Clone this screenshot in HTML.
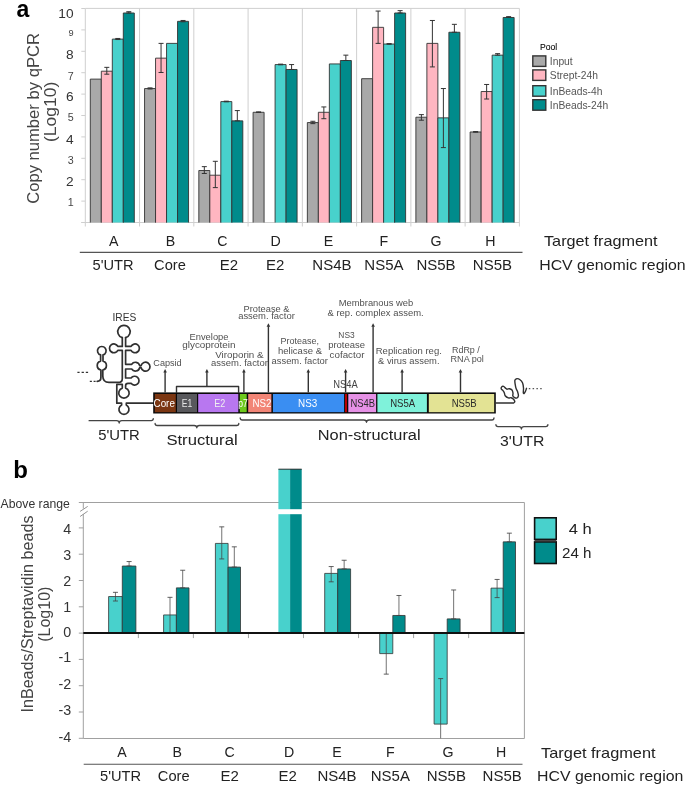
<!DOCTYPE html>
<html><head><meta charset="utf-8"><title>HCV figure</title>
<style>
html,body{margin:0;padding:0;background:#fff;}
body{width:685px;height:785px;overflow:hidden;}
svg{display:block;font-family:"Liberation Sans", sans-serif;will-change:transform;}
</style></head>
<body>
<svg width="685" height="785" viewBox="0 0 685 785">
<rect x="0" y="0" width="685" height="785" fill="#fff"/>
<text x="16.50" y="16.80" font-size="23" text-anchor="start" fill="#000" font-weight="bold">a</text>
<line x1="85.30" y1="8.40" x2="519.40" y2="8.40" stroke="#cfcfcf" stroke-width="1"/>
<line x1="85.30" y1="8.40" x2="85.30" y2="226.50" stroke="#cfcfcf" stroke-width="1"/>
<line x1="139.56" y1="8.40" x2="139.56" y2="226.50" stroke="#cfcfcf" stroke-width="1"/>
<line x1="193.82" y1="8.40" x2="193.82" y2="226.50" stroke="#cfcfcf" stroke-width="1"/>
<line x1="248.09" y1="8.40" x2="248.09" y2="226.50" stroke="#cfcfcf" stroke-width="1"/>
<line x1="302.35" y1="8.40" x2="302.35" y2="226.50" stroke="#cfcfcf" stroke-width="1"/>
<line x1="356.61" y1="8.40" x2="356.61" y2="226.50" stroke="#cfcfcf" stroke-width="1"/>
<line x1="410.88" y1="8.40" x2="410.88" y2="226.50" stroke="#cfcfcf" stroke-width="1"/>
<line x1="465.14" y1="8.40" x2="465.14" y2="226.50" stroke="#cfcfcf" stroke-width="1"/>
<line x1="519.40" y1="8.40" x2="519.40" y2="226.50" stroke="#cfcfcf" stroke-width="1"/>
<line x1="81.30" y1="222.50" x2="519.40" y2="222.50" stroke="#cfcfcf" stroke-width="1"/>
<line x1="81.30" y1="222.50" x2="85.30" y2="222.50" stroke="#cfcfcf" stroke-width="1"/>
<line x1="81.30" y1="201.10" x2="85.30" y2="201.10" stroke="#cfcfcf" stroke-width="1"/>
<line x1="81.30" y1="179.70" x2="85.30" y2="179.70" stroke="#cfcfcf" stroke-width="1"/>
<line x1="81.30" y1="158.30" x2="85.30" y2="158.30" stroke="#cfcfcf" stroke-width="1"/>
<line x1="81.30" y1="136.90" x2="85.30" y2="136.90" stroke="#cfcfcf" stroke-width="1"/>
<line x1="81.30" y1="115.50" x2="85.30" y2="115.50" stroke="#cfcfcf" stroke-width="1"/>
<line x1="81.30" y1="94.10" x2="85.30" y2="94.10" stroke="#cfcfcf" stroke-width="1"/>
<line x1="81.30" y1="72.70" x2="85.30" y2="72.70" stroke="#cfcfcf" stroke-width="1"/>
<line x1="81.30" y1="51.30" x2="85.30" y2="51.30" stroke="#cfcfcf" stroke-width="1"/>
<line x1="81.30" y1="29.90" x2="85.30" y2="29.90" stroke="#cfcfcf" stroke-width="1"/>
<line x1="81.30" y1="8.50" x2="85.30" y2="8.50" stroke="#cfcfcf" stroke-width="1"/>
<text x="73.60" y="17.79" font-size="13.7" text-anchor="end" fill="#333">10</text>
<text x="73.60" y="35.52" font-size="9.2" text-anchor="end" fill="#444">9</text>
<text x="73.60" y="59.20" font-size="13.7" text-anchor="end" fill="#333">8</text>
<text x="73.60" y="80.05" font-size="10.7" text-anchor="end" fill="#444">7</text>
<text x="73.60" y="101.09" font-size="13.7" text-anchor="end" fill="#333">6</text>
<text x="73.60" y="121.45" font-size="10.7" text-anchor="end" fill="#444">5</text>
<text x="73.60" y="144.29" font-size="13.7" text-anchor="end" fill="#333">4</text>
<text x="73.60" y="164.34" font-size="10.7" text-anchor="end" fill="#444">3</text>
<text x="73.60" y="185.59" font-size="13.7" text-anchor="end" fill="#333">2</text>
<text x="73.60" y="205.94" font-size="10.7" text-anchor="end" fill="#444">1</text>
<text transform="translate(38.60,118.45) rotate(-90)" x="0" y="0" font-size="16.3" text-anchor="middle" fill="#444" textLength="170.8" lengthAdjust="spacingAndGlyphs">Copy number by qPCR</text>
<text transform="translate(56.20,111.85) rotate(-90)" x="0" y="0" font-size="16.3" text-anchor="middle" fill="#444" textLength="60.2" lengthAdjust="spacingAndGlyphs">(Log10)</text>
<rect x="90.30" y="79.12" width="11.00" height="143.38" fill="#a9a9a9"/>
<path d="M90.30,222.50 V79.12 H101.30 V222.50" fill="none" stroke="#333" stroke-width="0.9"/>
<rect x="101.30" y="71.20" width="11.00" height="151.30" fill="#ffb6c1"/>
<path d="M101.30,222.50 V71.20 H112.30 V222.50" fill="none" stroke="#333" stroke-width="0.9"/>
<rect x="112.30" y="39.10" width="11.00" height="183.40" fill="#48d1cc"/>
<path d="M112.30,222.50 V39.10 H123.30 V222.50" fill="none" stroke="#333" stroke-width="0.9"/>
<rect x="123.30" y="12.99" width="11.00" height="209.51" fill="#008b8b"/>
<path d="M123.30,222.50 V12.99 H134.30 V222.50" fill="none" stroke="#333" stroke-width="0.9"/>
<line x1="106.80" y1="67.35" x2="106.80" y2="74.20" stroke="#333" stroke-width="1"/>
<line x1="104.30" y1="67.35" x2="109.30" y2="67.35" stroke="#333" stroke-width="1"/>
<line x1="104.30" y1="74.20" x2="109.30" y2="74.20" stroke="#333" stroke-width="1"/>
<line x1="117.80" y1="38.46" x2="117.80" y2="39.53" stroke="#333" stroke-width="1"/>
<line x1="115.30" y1="38.46" x2="120.30" y2="38.46" stroke="#333" stroke-width="1"/>
<line x1="115.30" y1="39.53" x2="120.30" y2="39.53" stroke="#333" stroke-width="1"/>
<line x1="128.80" y1="11.71" x2="128.80" y2="12.99" stroke="#333" stroke-width="1"/>
<line x1="126.30" y1="11.71" x2="131.30" y2="11.71" stroke="#333" stroke-width="1"/>
<line x1="126.30" y1="12.99" x2="131.30" y2="12.99" stroke="#333" stroke-width="1"/>
<rect x="144.56" y="88.54" width="11.00" height="133.96" fill="#a9a9a9"/>
<path d="M144.56,222.50 V88.54 H155.56 V222.50" fill="none" stroke="#333" stroke-width="0.9"/>
<rect x="155.56" y="58.15" width="11.00" height="164.35" fill="#ffb6c1"/>
<path d="M155.56,222.50 V58.15 H166.56 V222.50" fill="none" stroke="#333" stroke-width="0.9"/>
<rect x="166.56" y="43.38" width="11.00" height="179.12" fill="#48d1cc"/>
<path d="M166.56,222.50 V43.38 H177.56 V222.50" fill="none" stroke="#333" stroke-width="0.9"/>
<rect x="177.56" y="21.34" width="11.00" height="201.16" fill="#008b8b"/>
<path d="M177.56,222.50 V21.34 H188.56 V222.50" fill="none" stroke="#333" stroke-width="0.9"/>
<line x1="150.06" y1="87.89" x2="150.06" y2="88.96" stroke="#333" stroke-width="1"/>
<line x1="147.56" y1="87.89" x2="152.56" y2="87.89" stroke="#333" stroke-width="1"/>
<line x1="147.56" y1="88.96" x2="152.56" y2="88.96" stroke="#333" stroke-width="1"/>
<line x1="161.06" y1="43.38" x2="161.06" y2="72.49" stroke="#333" stroke-width="1"/>
<line x1="158.56" y1="43.38" x2="163.56" y2="43.38" stroke="#333" stroke-width="1"/>
<line x1="158.56" y1="72.49" x2="163.56" y2="72.49" stroke="#333" stroke-width="1"/>
<line x1="183.06" y1="20.48" x2="183.06" y2="21.77" stroke="#333" stroke-width="1"/>
<line x1="180.56" y1="20.48" x2="185.56" y2="20.48" stroke="#333" stroke-width="1"/>
<line x1="180.56" y1="21.77" x2="185.56" y2="21.77" stroke="#333" stroke-width="1"/>
<rect x="198.82" y="170.50" width="11.00" height="52.00" fill="#a9a9a9"/>
<path d="M198.82,222.50 V170.50 H209.82 V222.50" fill="none" stroke="#333" stroke-width="0.9"/>
<rect x="209.82" y="175.21" width="11.00" height="47.29" fill="#ffb6c1"/>
<path d="M209.82,222.50 V175.21 H220.82 V222.50" fill="none" stroke="#333" stroke-width="0.9"/>
<rect x="220.82" y="101.59" width="11.00" height="120.91" fill="#48d1cc"/>
<path d="M220.82,222.50 V101.59 H231.82 V222.50" fill="none" stroke="#333" stroke-width="0.9"/>
<rect x="231.82" y="120.85" width="11.00" height="101.65" fill="#008b8b"/>
<path d="M231.82,222.50 V120.85 H242.82 V222.50" fill="none" stroke="#333" stroke-width="0.9"/>
<line x1="204.32" y1="166.65" x2="204.32" y2="173.49" stroke="#333" stroke-width="1"/>
<line x1="201.82" y1="166.65" x2="206.82" y2="166.65" stroke="#333" stroke-width="1"/>
<line x1="201.82" y1="173.49" x2="206.82" y2="173.49" stroke="#333" stroke-width="1"/>
<line x1="215.32" y1="161.30" x2="215.32" y2="187.62" stroke="#333" stroke-width="1"/>
<line x1="212.82" y1="161.30" x2="217.82" y2="161.30" stroke="#333" stroke-width="1"/>
<line x1="212.82" y1="187.62" x2="217.82" y2="187.62" stroke="#333" stroke-width="1"/>
<line x1="226.32" y1="101.16" x2="226.32" y2="101.80" stroke="#333" stroke-width="1"/>
<line x1="223.82" y1="101.16" x2="228.82" y2="101.16" stroke="#333" stroke-width="1"/>
<line x1="223.82" y1="101.80" x2="228.82" y2="101.80" stroke="#333" stroke-width="1"/>
<line x1="237.32" y1="110.58" x2="237.32" y2="120.85" stroke="#333" stroke-width="1"/>
<line x1="234.82" y1="110.58" x2="239.82" y2="110.58" stroke="#333" stroke-width="1"/>
<line x1="234.82" y1="120.85" x2="239.82" y2="120.85" stroke="#333" stroke-width="1"/>
<rect x="253.09" y="112.29" width="11.00" height="110.21" fill="#a9a9a9"/>
<path d="M253.09,222.50 V112.29 H264.09 V222.50" fill="none" stroke="#333" stroke-width="0.9"/>
<rect x="275.09" y="64.57" width="11.00" height="157.93" fill="#48d1cc"/>
<path d="M275.09,222.50 V64.57 H286.09 V222.50" fill="none" stroke="#333" stroke-width="0.9"/>
<rect x="286.09" y="69.49" width="11.00" height="153.01" fill="#008b8b"/>
<path d="M286.09,222.50 V69.49 H297.09 V222.50" fill="none" stroke="#333" stroke-width="0.9"/>
<line x1="258.59" y1="111.86" x2="258.59" y2="112.50" stroke="#333" stroke-width="1"/>
<line x1="256.09" y1="111.86" x2="261.09" y2="111.86" stroke="#333" stroke-width="1"/>
<line x1="256.09" y1="112.50" x2="261.09" y2="112.50" stroke="#333" stroke-width="1"/>
<line x1="280.59" y1="64.14" x2="280.59" y2="64.78" stroke="#333" stroke-width="1"/>
<line x1="278.09" y1="64.14" x2="283.09" y2="64.14" stroke="#333" stroke-width="1"/>
<line x1="278.09" y1="64.78" x2="283.09" y2="64.78" stroke="#333" stroke-width="1"/>
<line x1="291.59" y1="64.57" x2="291.59" y2="69.49" stroke="#333" stroke-width="1"/>
<line x1="289.09" y1="64.57" x2="294.09" y2="64.57" stroke="#333" stroke-width="1"/>
<line x1="289.09" y1="69.49" x2="294.09" y2="69.49" stroke="#333" stroke-width="1"/>
<rect x="307.35" y="122.56" width="11.00" height="99.94" fill="#a9a9a9"/>
<path d="M307.35,222.50 V122.56 H318.35 V222.50" fill="none" stroke="#333" stroke-width="0.9"/>
<rect x="318.35" y="112.29" width="11.00" height="110.21" fill="#ffb6c1"/>
<path d="M318.35,222.50 V112.29 H329.35 V222.50" fill="none" stroke="#333" stroke-width="0.9"/>
<rect x="329.35" y="63.93" width="11.00" height="158.57" fill="#48d1cc"/>
<path d="M329.35,222.50 V63.93 H340.35 V222.50" fill="none" stroke="#333" stroke-width="0.9"/>
<rect x="340.35" y="60.50" width="11.00" height="162.00" fill="#008b8b"/>
<path d="M340.35,222.50 V60.50 H351.35 V222.50" fill="none" stroke="#333" stroke-width="0.9"/>
<line x1="312.85" y1="121.28" x2="312.85" y2="123.63" stroke="#333" stroke-width="1"/>
<line x1="310.35" y1="121.28" x2="315.35" y2="121.28" stroke="#333" stroke-width="1"/>
<line x1="310.35" y1="123.63" x2="315.35" y2="123.63" stroke="#333" stroke-width="1"/>
<line x1="323.85" y1="106.94" x2="323.85" y2="118.71" stroke="#333" stroke-width="1"/>
<line x1="321.35" y1="106.94" x2="326.35" y2="106.94" stroke="#333" stroke-width="1"/>
<line x1="321.35" y1="118.71" x2="326.35" y2="118.71" stroke="#333" stroke-width="1"/>
<line x1="345.85" y1="55.15" x2="345.85" y2="60.50" stroke="#333" stroke-width="1"/>
<line x1="343.35" y1="55.15" x2="348.35" y2="55.15" stroke="#333" stroke-width="1"/>
<line x1="343.35" y1="60.50" x2="348.35" y2="60.50" stroke="#333" stroke-width="1"/>
<rect x="361.61" y="78.69" width="11.00" height="143.81" fill="#a9a9a9"/>
<path d="M361.61,222.50 V78.69 H372.61 V222.50" fill="none" stroke="#333" stroke-width="0.9"/>
<rect x="372.61" y="27.33" width="11.00" height="195.17" fill="#ffb6c1"/>
<path d="M372.61,222.50 V27.33 H383.61 V222.50" fill="none" stroke="#333" stroke-width="0.9"/>
<rect x="383.61" y="44.02" width="11.00" height="178.48" fill="#48d1cc"/>
<path d="M383.61,222.50 V44.02 H394.61 V222.50" fill="none" stroke="#333" stroke-width="0.9"/>
<rect x="394.61" y="12.99" width="11.00" height="209.51" fill="#008b8b"/>
<path d="M394.61,222.50 V12.99 H405.61 V222.50" fill="none" stroke="#333" stroke-width="0.9"/>
<line x1="378.11" y1="11.07" x2="378.11" y2="43.38" stroke="#333" stroke-width="1"/>
<line x1="375.61" y1="11.07" x2="380.61" y2="11.07" stroke="#333" stroke-width="1"/>
<line x1="375.61" y1="43.38" x2="380.61" y2="43.38" stroke="#333" stroke-width="1"/>
<line x1="389.11" y1="43.60" x2="389.11" y2="44.24" stroke="#333" stroke-width="1"/>
<line x1="386.61" y1="43.60" x2="391.61" y2="43.60" stroke="#333" stroke-width="1"/>
<line x1="386.61" y1="44.24" x2="391.61" y2="44.24" stroke="#333" stroke-width="1"/>
<line x1="400.11" y1="10.64" x2="400.11" y2="12.99" stroke="#333" stroke-width="1"/>
<line x1="397.61" y1="10.64" x2="402.61" y2="10.64" stroke="#333" stroke-width="1"/>
<line x1="397.61" y1="12.99" x2="402.61" y2="12.99" stroke="#333" stroke-width="1"/>
<rect x="415.88" y="117.21" width="11.00" height="105.29" fill="#a9a9a9"/>
<path d="M415.88,222.50 V117.21 H426.88 V222.50" fill="none" stroke="#333" stroke-width="0.9"/>
<rect x="426.88" y="43.38" width="11.00" height="179.12" fill="#ffb6c1"/>
<path d="M426.88,222.50 V43.38 H437.88 V222.50" fill="none" stroke="#333" stroke-width="0.9"/>
<rect x="437.88" y="117.85" width="11.00" height="104.65" fill="#48d1cc"/>
<path d="M437.88,222.50 V117.85 H448.88 V222.50" fill="none" stroke="#333" stroke-width="0.9"/>
<rect x="448.88" y="32.25" width="11.00" height="190.25" fill="#008b8b"/>
<path d="M448.88,222.50 V32.25 H459.88 V222.50" fill="none" stroke="#333" stroke-width="0.9"/>
<line x1="421.38" y1="114.64" x2="421.38" y2="120.21" stroke="#333" stroke-width="1"/>
<line x1="418.88" y1="114.64" x2="423.88" y2="114.64" stroke="#333" stroke-width="1"/>
<line x1="418.88" y1="120.21" x2="423.88" y2="120.21" stroke="#333" stroke-width="1"/>
<line x1="432.38" y1="20.48" x2="432.38" y2="66.92" stroke="#333" stroke-width="1"/>
<line x1="429.88" y1="20.48" x2="434.88" y2="20.48" stroke="#333" stroke-width="1"/>
<line x1="429.88" y1="66.92" x2="434.88" y2="66.92" stroke="#333" stroke-width="1"/>
<line x1="443.38" y1="88.54" x2="443.38" y2="147.60" stroke="#333" stroke-width="1"/>
<line x1="440.88" y1="88.54" x2="445.88" y2="88.54" stroke="#333" stroke-width="1"/>
<line x1="440.88" y1="147.60" x2="445.88" y2="147.60" stroke="#333" stroke-width="1"/>
<line x1="454.38" y1="24.34" x2="454.38" y2="32.25" stroke="#333" stroke-width="1"/>
<line x1="451.88" y1="24.34" x2="456.88" y2="24.34" stroke="#333" stroke-width="1"/>
<line x1="451.88" y1="32.25" x2="456.88" y2="32.25" stroke="#333" stroke-width="1"/>
<rect x="470.14" y="131.98" width="11.00" height="90.52" fill="#a9a9a9"/>
<path d="M470.14,222.50 V131.98 H481.14 V222.50" fill="none" stroke="#333" stroke-width="0.9"/>
<rect x="481.14" y="91.53" width="11.00" height="130.97" fill="#ffb6c1"/>
<path d="M481.14,222.50 V91.53 H492.14 V222.50" fill="none" stroke="#333" stroke-width="0.9"/>
<rect x="492.14" y="55.15" width="11.00" height="167.35" fill="#48d1cc"/>
<path d="M492.14,222.50 V55.15 H503.14 V222.50" fill="none" stroke="#333" stroke-width="0.9"/>
<rect x="503.14" y="17.49" width="11.00" height="205.01" fill="#008b8b"/>
<path d="M503.14,222.50 V17.49 H514.14 V222.50" fill="none" stroke="#333" stroke-width="0.9"/>
<line x1="475.64" y1="131.55" x2="475.64" y2="132.19" stroke="#333" stroke-width="1"/>
<line x1="473.14" y1="131.55" x2="478.14" y2="131.55" stroke="#333" stroke-width="1"/>
<line x1="473.14" y1="132.19" x2="478.14" y2="132.19" stroke="#333" stroke-width="1"/>
<line x1="486.64" y1="84.47" x2="486.64" y2="99.02" stroke="#333" stroke-width="1"/>
<line x1="484.14" y1="84.47" x2="489.14" y2="84.47" stroke="#333" stroke-width="1"/>
<line x1="484.14" y1="99.02" x2="489.14" y2="99.02" stroke="#333" stroke-width="1"/>
<line x1="497.64" y1="53.65" x2="497.64" y2="55.15" stroke="#333" stroke-width="1"/>
<line x1="495.14" y1="53.65" x2="500.14" y2="53.65" stroke="#333" stroke-width="1"/>
<line x1="495.14" y1="55.15" x2="500.14" y2="55.15" stroke="#333" stroke-width="1"/>
<line x1="508.64" y1="16.63" x2="508.64" y2="17.49" stroke="#333" stroke-width="1"/>
<line x1="506.14" y1="16.63" x2="511.14" y2="16.63" stroke="#333" stroke-width="1"/>
<line x1="506.14" y1="17.49" x2="511.14" y2="17.49" stroke="#333" stroke-width="1"/>
<text x="540.00" y="50.30" font-size="8.6" text-anchor="start" fill="#000" stroke="#111" stroke-width="0.08">Pool</text>
<rect x="532.80" y="55.90" width="13.00" height="10.50" fill="#a9a9a9" stroke="#333" stroke-width="1.4"/>
<text x="549.80" y="64.90" font-size="10.3" text-anchor="start" fill="#555">Input</text>
<rect x="532.80" y="69.90" width="13.00" height="10.50" fill="#ffb6c1" stroke="#333" stroke-width="1.4"/>
<text x="549.80" y="78.90" font-size="10.3" text-anchor="start" fill="#555">Strept-24h</text>
<rect x="532.80" y="85.70" width="13.00" height="10.50" fill="#48d1cc" stroke="#333" stroke-width="1.4"/>
<text x="549.80" y="94.70" font-size="10.3" text-anchor="start" fill="#555">InBeads-4h</text>
<rect x="532.80" y="99.70" width="13.00" height="10.50" fill="#008b8b" stroke="#333" stroke-width="1.4"/>
<text x="549.80" y="108.70" font-size="10.3" text-anchor="start" fill="#555">InBeads-24h</text>
<text x="113.80" y="246.10" font-size="14.2" text-anchor="middle" fill="#222">A</text>
<text x="170.40" y="246.10" font-size="14.2" text-anchor="middle" fill="#222">B</text>
<text x="222.40" y="246.10" font-size="14.2" text-anchor="middle" fill="#222">C</text>
<text x="275.60" y="246.10" font-size="14.2" text-anchor="middle" fill="#222">D</text>
<text x="328.50" y="246.10" font-size="14.2" text-anchor="middle" fill="#222">E</text>
<text x="383.90" y="246.10" font-size="14.2" text-anchor="middle" fill="#222">F</text>
<text x="436.00" y="246.10" font-size="14.2" text-anchor="middle" fill="#222">G</text>
<text x="490.40" y="246.10" font-size="14.2" text-anchor="middle" fill="#222">H</text>
<text x="113.10" y="270.20" font-size="15.0" text-anchor="middle" fill="#222" textLength="41" lengthAdjust="spacingAndGlyphs">5'UTR</text>
<text x="170.00" y="270.20" font-size="15.0" text-anchor="middle" fill="#222" textLength="31.8" lengthAdjust="spacingAndGlyphs">Core</text>
<text x="228.90" y="270.20" font-size="15.0" text-anchor="middle" fill="#222">E2</text>
<text x="275.20" y="270.20" font-size="15.0" text-anchor="middle" fill="#222">E2</text>
<text x="331.90" y="270.20" font-size="15.0" text-anchor="middle" fill="#222">NS4B</text>
<text x="383.90" y="270.20" font-size="15.0" text-anchor="middle" fill="#222">NS5A</text>
<text x="436.00" y="270.20" font-size="15.0" text-anchor="middle" fill="#222">NS5B</text>
<text x="492.40" y="270.20" font-size="15.0" text-anchor="middle" fill="#222">NS5B</text>
<line x1="79.80" y1="252.40" x2="522.50" y2="252.40" stroke="#555" stroke-width="1.1"/>
<text x="544.00" y="246.10" font-size="15.0" text-anchor="start" fill="#222" textLength="113.6" lengthAdjust="spacingAndGlyphs">Target fragment</text>
<text x="539.20" y="270.10" font-size="15.0" text-anchor="start" fill="#222" textLength="146.5" lengthAdjust="spacingAndGlyphs">HCV genomic region</text>
<text x="124.40" y="321.40" font-size="10.0" text-anchor="middle" fill="#333" textLength="23.8" lengthAdjust="spacingAndGlyphs">IRES</text>
<path d="M122.3,337.6 A6.2,6.2 0 1 1 125.6,337.6" fill="none" stroke="#303030" stroke-width="1.7" stroke-linecap="round" stroke-linejoin="round"/>
<path d="M122.3,337.6 V346.4 H117.84 A4.4,4.4 0 1 0 117.84,350.3 H122.3 V378.4 Q122.3,382.4 118.3,382.4 H109 Q102.8,382.4 102.8,376 V370.0 A4.6,4.6 0 0 0 103.0,361.06 V354.93 A4.3,4.3 0 1 0 100.6,354.93 V361.06 A4.6,4.6 0 0 0 100.9,370.0 V377.5 Q100.9,381.3 97.2,381.3" fill="none" stroke="#303030" stroke-width="1.7" stroke-linecap="round" stroke-linejoin="round"/>
<path d="M125.6,337.6 V346.4 H131.06 A4.4,4.4 0 1 1 131.06,350.3 H125.6 V364.3 H131.68 A4.4,4.4 0 0 1 139.67,365.6 H141.12 A4.5,4.5 0 1 1 141.12,367.7 H139.67 A4.4,4.4 0 0 1 131.68,369.0 H125.6 V378.0 H131.09 A4.4,4.4 0 1 1 131.09,383.3 H128 Q125.6,383.3 125.6,385.7 V388.07 A5.2,5.2 0 1 1 122.3,388.07 V384.4 H116.8 V403.2 H121.6 V404.9 A5.0,5.0 0 1 0 126.3,404.9 V403.2 H153.3" fill="none" stroke="#303030" stroke-width="1.7" stroke-linecap="round" stroke-linejoin="round"/>
<path d="M77.4,372.4 H79.6 M81.6,372.4 H83.9 M85.8,372.4 H88.1 M89.8,381.4 H91.9 M93.6,381.4 H95.6" stroke="#333" stroke-width="1.4" fill="none"/>
<rect x="153.20" y="392.40" width="342.60" height="21.10" fill="#0a0a0a"/>
<rect x="154.80" y="394.00" width="21.00" height="18.20" fill="#7b3612"/>
<rect x="177.00" y="394.00" width="20.00" height="18.20" fill="#58585c"/>
<rect x="198.20" y="394.00" width="40.10" height="18.20" fill="#b877f0"/>
<rect x="239.80" y="394.00" width="6.90" height="18.20" fill="#6dc91c"/>
<rect x="248.20" y="394.00" width="23.20" height="18.20" fill="#f28576"/>
<rect x="272.90" y="394.00" width="71.20" height="18.20" fill="#3a8ef2"/>
<rect x="345.10" y="394.00" width="1.80" height="18.20" fill="#cc0000"/>
<rect x="348.30" y="394.00" width="27.80" height="18.20" fill="#e691e6"/>
<rect x="377.40" y="394.00" width="49.50" height="18.20" fill="#7ff2da"/>
<rect x="428.80" y="394.00" width="65.40" height="18.20" fill="#e3e394"/>
<text x="164.20" y="406.60" font-size="10.6" text-anchor="middle" fill="#fff" textLength="21.3" lengthAdjust="spacingAndGlyphs">Core</text>
<text x="187.00" y="406.60" font-size="10.6" text-anchor="middle" fill="#e6e6e6" textLength="10.5" lengthAdjust="spacingAndGlyphs">E1</text>
<text x="219.70" y="406.60" font-size="10.6" text-anchor="middle" fill="#f0f0f0" textLength="11.0" lengthAdjust="spacingAndGlyphs">E2</text>
<text x="242.90" y="406.60" font-size="10.6" text-anchor="middle" fill="#fff" textLength="9.5" lengthAdjust="spacingAndGlyphs">p7</text>
<text x="261.90" y="406.60" font-size="10.6" text-anchor="middle" fill="#fff" textLength="19.0" lengthAdjust="spacingAndGlyphs">NS2</text>
<text x="307.70" y="406.60" font-size="10.6" text-anchor="middle" fill="#fff" textLength="19.2" lengthAdjust="spacingAndGlyphs">NS3</text>
<text x="362.80" y="406.60" font-size="10.6" text-anchor="middle" fill="#2a2a2a" textLength="24.6" lengthAdjust="spacingAndGlyphs">NS4B</text>
<text x="402.70" y="406.60" font-size="10.6" text-anchor="middle" fill="#2a2a2a" textLength="25.0" lengthAdjust="spacingAndGlyphs">NS5A</text>
<text x="464.20" y="406.60" font-size="10.6" text-anchor="middle" fill="#2a2a2a" textLength="25.0" lengthAdjust="spacingAndGlyphs">NS5B</text>
<line x1="165.10" y1="392.40" x2="165.10" y2="372.00" stroke="#333" stroke-width="1.4"/>
<path d="M163.30,372.60 L165.10,369.00 L166.90,372.60 Z" fill="#333"/>
<line x1="206.90" y1="386.50" x2="206.90" y2="372.00" stroke="#333" stroke-width="1.4"/>
<path d="M205.10,372.60 L206.90,369.00 L208.70,372.60 Z" fill="#333"/>
<path d="M176.5,392.4 V386.5 H238.6 V392.4" fill="none" stroke="#333" stroke-width="1.4" stroke-linecap="round" stroke-linejoin="round"/>
<line x1="243.90" y1="392.40" x2="243.90" y2="372.00" stroke="#333" stroke-width="1.4"/>
<path d="M242.10,372.60 L243.90,369.00 L245.70,372.60 Z" fill="#333"/>
<line x1="268.40" y1="392.40" x2="268.40" y2="326.20" stroke="#333" stroke-width="1.4"/>
<path d="M266.60,326.80 L268.40,323.20 L270.20,326.80 Z" fill="#333"/>
<line x1="308.30" y1="392.40" x2="308.30" y2="372.00" stroke="#333" stroke-width="1.4"/>
<path d="M306.50,372.60 L308.30,369.00 L310.10,372.60 Z" fill="#333"/>
<line x1="345.60" y1="392.40" x2="345.60" y2="372.00" stroke="#333" stroke-width="1.4"/>
<path d="M343.80,372.60 L345.60,369.00 L347.40,372.60 Z" fill="#333"/>
<line x1="373.10" y1="392.40" x2="373.10" y2="326.20" stroke="#333" stroke-width="1.4"/>
<path d="M371.30,326.80 L373.10,323.20 L374.90,326.80 Z" fill="#333"/>
<line x1="402.10" y1="392.40" x2="402.10" y2="372.00" stroke="#333" stroke-width="1.4"/>
<path d="M400.30,372.60 L402.10,369.00 L403.90,372.60 Z" fill="#333"/>
<line x1="460.50" y1="392.40" x2="460.50" y2="372.00" stroke="#333" stroke-width="1.4"/>
<path d="M458.70,372.60 L460.50,369.00 L462.30,372.60 Z" fill="#333"/>
<text x="167.50" y="366.00" font-size="9.3" text-anchor="middle" fill="#505050" textLength="28.4" lengthAdjust="spacingAndGlyphs">Capsid</text>
<text x="209.00" y="340.00" font-size="9.3" text-anchor="middle" fill="#505050" textLength="39.0" lengthAdjust="spacingAndGlyphs">Envelope</text>
<text x="208.90" y="347.70" font-size="9.3" text-anchor="middle" fill="#505050" textLength="53.3" lengthAdjust="spacingAndGlyphs">glycoprotein</text>
<text x="239.40" y="358.30" font-size="9.3" text-anchor="middle" fill="#505050" textLength="48.4" lengthAdjust="spacingAndGlyphs">Viroporin &amp;</text>
<text x="239.50" y="366.30" font-size="9.3" text-anchor="middle" fill="#505050" textLength="56.9" lengthAdjust="spacingAndGlyphs">assem. factor</text>
<text x="266.50" y="311.80" font-size="9.3" text-anchor="middle" fill="#505050" textLength="45.9" lengthAdjust="spacingAndGlyphs">Protease &amp;</text>
<text x="266.50" y="318.80" font-size="9.3" text-anchor="middle" fill="#505050" textLength="56.7" lengthAdjust="spacingAndGlyphs">assem. factor</text>
<text x="299.80" y="344.00" font-size="9.3" text-anchor="middle" fill="#505050" textLength="38.5" lengthAdjust="spacingAndGlyphs">Protease,</text>
<text x="300.00" y="353.90" font-size="9.3" text-anchor="middle" fill="#505050" textLength="44.0" lengthAdjust="spacingAndGlyphs">helicase &amp;</text>
<text x="299.70" y="364.00" font-size="9.3" text-anchor="middle" fill="#505050" textLength="56.3" lengthAdjust="spacingAndGlyphs">assem. factor</text>
<text x="346.50" y="337.80" font-size="9.3" text-anchor="middle" fill="#505050" textLength="16.3" lengthAdjust="spacingAndGlyphs">NS3</text>
<text x="346.60" y="348.40" font-size="9.3" text-anchor="middle" fill="#505050" textLength="36.8" lengthAdjust="spacingAndGlyphs">protease</text>
<text x="347.00" y="358.30" font-size="9.3" text-anchor="middle" fill="#505050" textLength="34.8" lengthAdjust="spacingAndGlyphs">cofactor</text>
<text x="376.00" y="305.70" font-size="9.3" text-anchor="middle" fill="#505050" textLength="74.6" lengthAdjust="spacingAndGlyphs">Membranous web</text>
<text x="375.60" y="316.10" font-size="9.3" text-anchor="middle" fill="#505050" textLength="96.1" lengthAdjust="spacingAndGlyphs">&amp; rep. complex assem.</text>
<text x="408.80" y="354.30" font-size="9.3" text-anchor="middle" fill="#505050" textLength="66.1" lengthAdjust="spacingAndGlyphs">Replication reg.</text>
<text x="408.80" y="363.90" font-size="9.3" text-anchor="middle" fill="#505050" textLength="61.5" lengthAdjust="spacingAndGlyphs">&amp; virus assem.</text>
<text x="465.90" y="352.50" font-size="9.3" text-anchor="middle" fill="#505050" textLength="27.9" lengthAdjust="spacingAndGlyphs">RdRp /</text>
<text x="467.20" y="362.20" font-size="9.3" text-anchor="middle" fill="#505050" textLength="33.3" lengthAdjust="spacingAndGlyphs">RNA pol</text>
<text x="345.40" y="388.20" font-size="10.6" text-anchor="middle" fill="#444" textLength="24.5" lengthAdjust="spacingAndGlyphs">NS4A</text>
<path d="M495.8,403.0 H513.6  C513.80,402.77 514.85,402.27 514.80,401.60 C514.75,400.93 513.92,399.65 513.30,399.00 C512.68,398.35 511.93,397.88 511.10,397.70 C510.27,397.52 509.28,398.22 508.30,397.90 C507.32,397.58 505.87,396.65 505.20,395.80 C504.53,394.95 504.67,393.67 504.30,392.80 C503.93,391.93 503.50,391.23 503.00,390.60 C502.50,389.97 501.52,389.62 501.30,389.00 C501.08,388.38 501.32,387.33 501.70,386.90 C502.08,386.47 502.97,386.20 503.60,386.40 C504.23,386.60 504.93,387.63 505.50,388.10 C506.07,388.57 506.35,389.10 507.00,389.20 C507.65,389.30 508.57,388.57 509.40,388.70 C510.23,388.83 511.40,389.25 512.00,390.00 C512.60,390.75 512.87,392.23 513.00,393.20 C513.13,394.17 512.60,395.10 512.80,395.80 C513.00,396.50 513.55,397.02 514.20,397.40 C514.85,397.78 516.00,398.37 516.70,398.10 C517.40,397.83 518.25,396.85 518.40,395.80 C518.55,394.75 517.98,393.02 517.60,391.80 C517.22,390.58 516.50,389.75 516.10,388.50 C515.70,387.25 515.40,385.67 515.20,384.30 C515.00,382.93 514.63,381.23 514.90,380.30 C515.17,379.37 515.95,378.80 516.80,378.70 C517.65,378.60 519.03,378.98 520.00,379.70 C520.97,380.42 522.02,381.62 522.60,383.00 C523.18,384.38 523.38,386.42 523.50,388.00 C523.62,389.58 523.22,391.57 523.30,392.50 C523.38,393.43 523.62,393.85 524.00,393.60 C524.38,393.35 525.18,391.88 525.60,391.00 C526.02,390.12 526.35,388.75 526.50,388.30" fill="none" stroke="#303030" stroke-width="1.4" stroke-linecap="round" stroke-linejoin="round"/>
<path d="M528.8,388.6 H530.3 M532.6,388.6 H534.1 M536.4,388.6 H537.9 M540.2,388.6 H541.7" stroke="#555" stroke-width="1.2" fill="none"/>
<path d="M89.1,420.7 H116.6 Q119.2,420.7 119.2,423.0 Q119.2,420.7 121.8,420.7 H151.3 Q153.3,420.7 153.3,418.6" fill="none" stroke="#444" stroke-width="1.3" stroke-linecap="round" stroke-linejoin="round"/>
<path d="M155.1,423.4 Q155.1,425.5 157.2,425.5 H194.2 Q196.8,425.5 196.8,427.8 Q196.8,425.5 199.4,425.5 H236.7 Q238.8,425.5 238.8,423.4" fill="none" stroke="#444" stroke-width="1.3" stroke-linecap="round" stroke-linejoin="round"/>
<path d="M240.2,417.8 Q240.2,420.0 242.3,420.0 H363.9 Q366.5,420.0 366.5,422.3 Q366.5,420.0 369.1,420.0 H491.9 Q494.0,420.0 494.0,417.8" fill="none" stroke="#444" stroke-width="1.3" stroke-linecap="round" stroke-linejoin="round"/>
<path d="M495.9,424.6 Q495.9,426.7 498.0,426.7 H518.8 Q521.4,426.7 521.4,429.0 Q521.4,426.7 524.0,426.7 H545.8 Q547.9,426.7 547.9,424.6" fill="none" stroke="#444" stroke-width="1.3" stroke-linecap="round" stroke-linejoin="round"/>
<text x="119.00" y="439.80" font-size="15.2" text-anchor="middle" fill="#222" textLength="41.6" lengthAdjust="spacingAndGlyphs">5'UTR</text>
<text x="202.00" y="445.00" font-size="15.2" text-anchor="middle" fill="#222" textLength="71.2" lengthAdjust="spacingAndGlyphs">Structural</text>
<text x="369.20" y="439.70" font-size="15.2" text-anchor="middle" fill="#222" textLength="102.8" lengthAdjust="spacingAndGlyphs">Non-structural</text>
<text x="522.20" y="446.30" font-size="15.2" text-anchor="middle" fill="#222" textLength="44.3" lengthAdjust="spacingAndGlyphs">3'UTR</text>
<text x="13.30" y="477.80" font-size="24" text-anchor="start" fill="#000" font-weight="bold">b</text>
<line x1="78.80" y1="502.50" x2="524.40" y2="502.50" stroke="#a0a0a0" stroke-width="1"/>
<line x1="524.40" y1="502.50" x2="524.40" y2="738.50" stroke="#a0a0a0" stroke-width="1"/>
<line x1="83.30" y1="502.50" x2="83.30" y2="508.60" stroke="#a0a0a0" stroke-width="1"/>
<line x1="83.30" y1="514.20" x2="83.30" y2="738.50" stroke="#a0a0a0" stroke-width="1"/>
<line x1="83.30" y1="738.50" x2="524.40" y2="738.50" stroke="#a0a0a0" stroke-width="1"/>
<line x1="80.10" y1="511.40" x2="87.70" y2="506.40" stroke="#888" stroke-width="0.9"/>
<line x1="80.10" y1="516.50" x2="87.70" y2="511.20" stroke="#888" stroke-width="0.9"/>
<text x="0.50" y="507.70" font-size="12.1" text-anchor="start" fill="#333" textLength="69.4" lengthAdjust="spacingAndGlyphs">Above range</text>
<line x1="78.80" y1="738.30" x2="83.30" y2="738.30" stroke="#a0a0a0" stroke-width="1"/>
<text x="71.20" y="741.50" font-size="14.3" text-anchor="end" fill="#333">-4</text>
<line x1="78.80" y1="712.00" x2="83.30" y2="712.00" stroke="#a0a0a0" stroke-width="1"/>
<text x="71.20" y="715.21" font-size="14.3" text-anchor="end" fill="#333">-3</text>
<line x1="78.80" y1="685.70" x2="83.30" y2="685.70" stroke="#a0a0a0" stroke-width="1"/>
<text x="71.20" y="688.90" font-size="14.3" text-anchor="end" fill="#333">-2</text>
<line x1="78.80" y1="659.40" x2="83.30" y2="659.40" stroke="#a0a0a0" stroke-width="1"/>
<text x="71.20" y="662.30" font-size="14.3" text-anchor="end" fill="#333">-1</text>
<line x1="78.80" y1="633.10" x2="83.30" y2="633.10" stroke="#a0a0a0" stroke-width="1"/>
<text x="71.20" y="636.71" font-size="14.3" text-anchor="end" fill="#333">0</text>
<line x1="78.80" y1="606.80" x2="83.30" y2="606.80" stroke="#a0a0a0" stroke-width="1"/>
<text x="71.20" y="612.40" font-size="14.3" text-anchor="end" fill="#333">1</text>
<line x1="78.80" y1="580.50" x2="83.30" y2="580.50" stroke="#a0a0a0" stroke-width="1"/>
<text x="71.20" y="586.21" font-size="14.3" text-anchor="end" fill="#333">2</text>
<line x1="78.80" y1="554.20" x2="83.30" y2="554.20" stroke="#a0a0a0" stroke-width="1"/>
<text x="71.20" y="559.90" font-size="14.3" text-anchor="end" fill="#333">3</text>
<line x1="78.80" y1="527.90" x2="83.30" y2="527.90" stroke="#a0a0a0" stroke-width="1"/>
<text x="71.20" y="533.65" font-size="14.3" text-anchor="end" fill="#333">4</text>
<line x1="138.35" y1="633.10" x2="138.35" y2="638.10" stroke="#a0a0a0" stroke-width="1"/>
<line x1="193.40" y1="633.10" x2="193.40" y2="638.10" stroke="#a0a0a0" stroke-width="1"/>
<line x1="248.45" y1="633.10" x2="248.45" y2="638.10" stroke="#a0a0a0" stroke-width="1"/>
<line x1="303.50" y1="633.10" x2="303.50" y2="638.10" stroke="#a0a0a0" stroke-width="1"/>
<line x1="358.55" y1="633.10" x2="358.55" y2="638.10" stroke="#a0a0a0" stroke-width="1"/>
<line x1="413.60" y1="633.10" x2="413.60" y2="638.10" stroke="#a0a0a0" stroke-width="1"/>
<line x1="468.65" y1="633.10" x2="468.65" y2="638.10" stroke="#a0a0a0" stroke-width="1"/>
<text transform="translate(33.10,614.05) rotate(-90)" x="0" y="0" font-size="16.3" text-anchor="middle" fill="#444" textLength="197.0" lengthAdjust="spacingAndGlyphs">InBeads/Streptavidin beads</text>
<text transform="translate(50.10,614.20) rotate(-90)" x="0" y="0" font-size="16.3" text-anchor="middle" fill="#444" textLength="55.2" lengthAdjust="spacingAndGlyphs">(Log10)</text>
<rect x="108.60" y="596.54" width="13.70" height="36.56" fill="#48d1cc"/>
<path d="M108.60,633.10 V596.54 H122.30 V633.10" fill="none" stroke="#333" stroke-width="0.8"/>
<rect x="122.30" y="566.04" width="13.60" height="67.06" fill="#008b8b"/>
<path d="M122.30,633.10 V566.04 H135.90 V633.10" fill="none" stroke="#333" stroke-width="0.8"/>
<line x1="115.45" y1="592.34" x2="115.45" y2="601.01" stroke="#444" stroke-width="0.75"/>
<line x1="112.95" y1="592.34" x2="117.95" y2="592.34" stroke="#444" stroke-width="0.85"/>
<line x1="112.95" y1="601.01" x2="117.95" y2="601.01" stroke="#444" stroke-width="0.85"/>
<line x1="129.10" y1="561.56" x2="129.10" y2="566.04" stroke="#444" stroke-width="0.75"/>
<line x1="126.60" y1="561.56" x2="131.60" y2="561.56" stroke="#444" stroke-width="0.85"/>
<line x1="126.60" y1="566.04" x2="131.60" y2="566.04" stroke="#444" stroke-width="0.85"/>
<rect x="163.60" y="614.95" width="12.80" height="18.15" fill="#48d1cc"/>
<path d="M163.60,633.10 V614.95 H176.40 V633.10" fill="none" stroke="#333" stroke-width="0.8"/>
<rect x="176.40" y="587.86" width="12.60" height="45.24" fill="#008b8b"/>
<path d="M176.40,633.10 V587.86 H189.00 V633.10" fill="none" stroke="#333" stroke-width="0.8"/>
<line x1="170.00" y1="597.33" x2="170.00" y2="633.10" stroke="#444" stroke-width="0.75"/>
<line x1="167.50" y1="597.33" x2="172.50" y2="597.33" stroke="#444" stroke-width="0.85"/>
<line x1="167.50" y1="633.10" x2="172.50" y2="633.10" stroke="#444" stroke-width="0.85"/>
<line x1="182.70" y1="570.24" x2="182.70" y2="587.86" stroke="#444" stroke-width="0.75"/>
<line x1="180.20" y1="570.24" x2="185.20" y2="570.24" stroke="#444" stroke-width="0.85"/>
<line x1="180.20" y1="587.86" x2="185.20" y2="587.86" stroke="#444" stroke-width="0.85"/>
<rect x="215.40" y="543.42" width="12.70" height="89.68" fill="#48d1cc"/>
<path d="M215.40,633.10 V543.42 H228.10 V633.10" fill="none" stroke="#333" stroke-width="0.8"/>
<rect x="228.10" y="567.09" width="12.40" height="66.01" fill="#008b8b"/>
<path d="M228.10,633.10 V567.09 H240.50 V633.10" fill="none" stroke="#333" stroke-width="0.8"/>
<line x1="221.75" y1="526.85" x2="221.75" y2="558.93" stroke="#444" stroke-width="0.75"/>
<line x1="219.25" y1="526.85" x2="224.25" y2="526.85" stroke="#444" stroke-width="0.85"/>
<line x1="219.25" y1="558.93" x2="224.25" y2="558.93" stroke="#444" stroke-width="0.85"/>
<line x1="234.30" y1="546.84" x2="234.30" y2="567.09" stroke="#444" stroke-width="0.75"/>
<line x1="231.80" y1="546.84" x2="236.80" y2="546.84" stroke="#444" stroke-width="0.85"/>
<line x1="231.80" y1="567.09" x2="236.80" y2="567.09" stroke="#444" stroke-width="0.85"/>
<rect x="278.40" y="469.00" width="11.70" height="164.10" fill="#48d1cc"/>
<rect x="290.10" y="469.00" width="11.60" height="164.10" fill="#008b8b"/>
<line x1="278.40" y1="469.20" x2="301.70" y2="469.20" stroke="#333" stroke-width="1.0"/>
<rect x="277.40" y="509.20" width="25.30" height="5.00" fill="#fff"/>
<rect x="324.70" y="573.40" width="13.00" height="59.70" fill="#48d1cc"/>
<path d="M324.70,633.10 V573.40 H337.70 V633.10" fill="none" stroke="#333" stroke-width="0.8"/>
<rect x="337.70" y="568.93" width="12.90" height="64.17" fill="#008b8b"/>
<path d="M337.70,633.10 V568.93 H350.60 V633.10" fill="none" stroke="#333" stroke-width="0.8"/>
<line x1="331.20" y1="566.56" x2="331.20" y2="581.82" stroke="#444" stroke-width="0.75"/>
<line x1="328.70" y1="566.56" x2="333.70" y2="566.56" stroke="#444" stroke-width="0.85"/>
<line x1="328.70" y1="581.82" x2="333.70" y2="581.82" stroke="#444" stroke-width="0.85"/>
<line x1="344.15" y1="560.25" x2="344.15" y2="568.93" stroke="#444" stroke-width="0.75"/>
<line x1="341.65" y1="560.25" x2="346.65" y2="560.25" stroke="#444" stroke-width="0.85"/>
<line x1="341.65" y1="568.93" x2="346.65" y2="568.93" stroke="#444" stroke-width="0.85"/>
<rect x="379.70" y="633.10" width="13.10" height="20.51" fill="#48d1cc"/>
<path d="M379.70,633.10 V653.61 H392.80 V633.10" fill="none" stroke="#333" stroke-width="0.8"/>
<rect x="392.80" y="615.48" width="12.30" height="17.62" fill="#008b8b"/>
<path d="M392.80,633.10 V615.48 H405.10 V633.10" fill="none" stroke="#333" stroke-width="0.8"/>
<line x1="386.25" y1="633.10" x2="386.25" y2="674.13" stroke="#444" stroke-width="0.75"/>
<line x1="383.75" y1="633.10" x2="388.75" y2="633.10" stroke="#444" stroke-width="0.85"/>
<line x1="383.75" y1="674.13" x2="388.75" y2="674.13" stroke="#444" stroke-width="0.85"/>
<line x1="398.95" y1="595.49" x2="398.95" y2="615.48" stroke="#444" stroke-width="0.75"/>
<line x1="396.45" y1="595.49" x2="401.45" y2="595.49" stroke="#444" stroke-width="0.85"/>
<line x1="396.45" y1="615.48" x2="401.45" y2="615.48" stroke="#444" stroke-width="0.85"/>
<rect x="434.10" y="633.10" width="13.10" height="91.00" fill="#48d1cc"/>
<path d="M434.10,633.10 V724.10 H447.20 V633.10" fill="none" stroke="#333" stroke-width="0.8"/>
<rect x="447.20" y="618.90" width="12.90" height="14.20" fill="#008b8b"/>
<path d="M447.20,633.10 V618.90 H460.10 V633.10" fill="none" stroke="#333" stroke-width="0.8"/>
<line x1="440.65" y1="678.60" x2="440.65" y2="738.30" stroke="#444" stroke-width="0.75"/>
<line x1="438.15" y1="678.60" x2="443.15" y2="678.60" stroke="#444" stroke-width="0.85"/>
<line x1="453.65" y1="589.97" x2="453.65" y2="618.90" stroke="#444" stroke-width="0.75"/>
<line x1="451.15" y1="589.97" x2="456.15" y2="589.97" stroke="#444" stroke-width="0.85"/>
<line x1="451.15" y1="618.90" x2="456.15" y2="618.90" stroke="#444" stroke-width="0.85"/>
<rect x="491.00" y="588.13" width="12.20" height="44.97" fill="#48d1cc"/>
<path d="M491.00,633.10 V588.13 H503.20 V633.10" fill="none" stroke="#333" stroke-width="0.8"/>
<rect x="503.20" y="541.84" width="12.30" height="91.26" fill="#008b8b"/>
<path d="M503.20,633.10 V541.84 H515.50 V633.10" fill="none" stroke="#333" stroke-width="0.8"/>
<line x1="497.10" y1="579.45" x2="497.10" y2="597.60" stroke="#444" stroke-width="0.75"/>
<line x1="494.60" y1="579.45" x2="499.60" y2="579.45" stroke="#444" stroke-width="0.85"/>
<line x1="494.60" y1="597.60" x2="499.60" y2="597.60" stroke="#444" stroke-width="0.85"/>
<line x1="509.35" y1="533.16" x2="509.35" y2="541.84" stroke="#444" stroke-width="0.75"/>
<line x1="506.85" y1="533.16" x2="511.85" y2="533.16" stroke="#444" stroke-width="0.85"/>
<line x1="506.85" y1="541.84" x2="511.85" y2="541.84" stroke="#444" stroke-width="0.85"/>
<line x1="83.30" y1="633.10" x2="524.40" y2="633.10" stroke="#111" stroke-width="2"/>
<rect x="534.60" y="517.80" width="21.60" height="21.60" fill="#48d1cc" stroke="#111" stroke-width="1.6"/>
<rect x="534.60" y="541.90" width="21.60" height="21.60" fill="#008b8b" stroke="#111" stroke-width="1.6"/>
<line x1="534.60" y1="540.60" x2="556.20" y2="540.60" stroke="#444" stroke-width="1.4"/>
<text x="568.70" y="534.00" font-size="14.2" text-anchor="start" fill="#222" textLength="23.0" lengthAdjust="spacingAndGlyphs">4 h</text>
<text x="562.00" y="558.00" font-size="14.2" text-anchor="start" fill="#222" textLength="29.5" lengthAdjust="spacingAndGlyphs">24 h</text>
<text x="122.10" y="757.00" font-size="14.2" text-anchor="middle" fill="#222">A</text>
<text x="177.30" y="757.00" font-size="14.2" text-anchor="middle" fill="#222">B</text>
<text x="229.70" y="757.00" font-size="14.2" text-anchor="middle" fill="#222">C</text>
<text x="289.00" y="757.00" font-size="14.2" text-anchor="middle" fill="#222">D</text>
<text x="337.00" y="757.00" font-size="14.2" text-anchor="middle" fill="#222">E</text>
<text x="390.30" y="757.00" font-size="14.2" text-anchor="middle" fill="#222">F</text>
<text x="447.90" y="757.00" font-size="14.2" text-anchor="middle" fill="#222">G</text>
<text x="501.10" y="757.00" font-size="14.2" text-anchor="middle" fill="#222">H</text>
<text x="120.50" y="781.30" font-size="15.0" text-anchor="middle" fill="#222" textLength="41" lengthAdjust="spacingAndGlyphs">5'UTR</text>
<text x="173.70" y="781.30" font-size="15.0" text-anchor="middle" fill="#222" textLength="31.8" lengthAdjust="spacingAndGlyphs">Core</text>
<text x="229.70" y="781.30" font-size="15.0" text-anchor="middle" fill="#222">E2</text>
<text x="287.70" y="781.30" font-size="15.0" text-anchor="middle" fill="#222">E2</text>
<text x="337.00" y="781.30" font-size="15.0" text-anchor="middle" fill="#222">NS4B</text>
<text x="390.30" y="781.30" font-size="15.0" text-anchor="middle" fill="#222">NS5A</text>
<text x="446.30" y="781.30" font-size="15.0" text-anchor="middle" fill="#222">NS5B</text>
<text x="502.20" y="781.30" font-size="15.0" text-anchor="middle" fill="#222">NS5B</text>
<line x1="83.70" y1="764.20" x2="522.50" y2="764.20" stroke="#555" stroke-width="1.1"/>
<text x="541.10" y="757.80" font-size="15.0" text-anchor="start" fill="#222" textLength="114.5" lengthAdjust="spacingAndGlyphs">Target fragment</text>
<text x="537.00" y="781.20" font-size="15.0" text-anchor="start" fill="#222" textLength="146.3" lengthAdjust="spacingAndGlyphs">HCV genomic region</text>
</svg>
</body></html>
